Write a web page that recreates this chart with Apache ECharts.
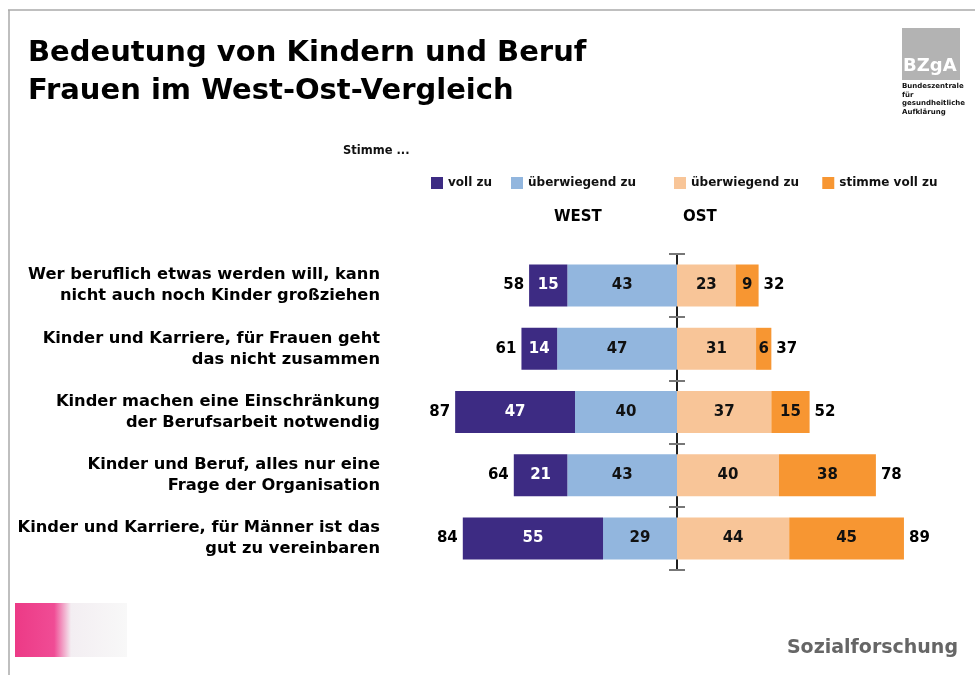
<!DOCTYPE html>
<html>
<head>
<meta charset="utf-8">
<script src="https://cdn.jsdelivr.net/npm/echarts@6/dist/echarts.min.js"></script>
<style>
  html, body { margin: 0; padding: 0; background: #fff; }
  #chart { width: 975px; height: 675px; }
</style>
</head>
<body>
<div id="chart"></div>
<script>
const categories = [
  'Wer beruflich etwas werden will, kann\nnicht auch noch Kinder großziehen',
  'Kinder und Karriere, für Frauen geht\ndas nicht zusammen',
  'Kinder machen eine Einschränkung\nder Berufsarbeit notwendig',
  'Kinder und Beruf, alles nur eine\nFrage der Organisation',
  'Kinder und Karriere, für Männer ist das\ngut zu vereinbaren'
]
// west (negative side), east (positive side)
const westVoll = [15, 14, 47, 21, 55]
const westUeber = [43, 47, 40, 43, 29]
const ostUeber = [23, 31, 37, 40, 44]
const ostVoll = [9, 6, 15, 38, 45]
const westTotal = [58, 61, 87, 64, 84]
const ostTotal = [32, 37, 52, 78, 89]

const font = '"DejaVu Sans", sans-serif'
const barWidth = 42

const chart = echarts.init(document.getElementById('chart'))

function barLabel(color) {
  return {
    show: true,
    position: 'inside',
    color: color,
    fontFamily: font,
    fontWeight: 'bold',
    fontSize: 15,
    formatter: p => Math.abs(p.value)
  }
}

function totalLabel(pos) {
  return {
    show: true, position: pos, distance: 5,
    color: '#000', fontFamily: font, fontWeight: 'bold', fontSize: 15,
    formatter: p => Math.abs(p.value[0])
  }
}

const catAxisBase = {
  type: 'category',
  data: categories,
  inverse: true,
  boundaryGap: true
}

const legendText = { fontFamily: font, fontWeight: 'bold', fontSize: 12, color: '#111' }

chart.setOption({
  animation: false,
  title: {
    text: 'Bedeutung von Kindern und Beruf\nFrauen im West-Ost-Vergleich',
    left: 23,
    top: 29,
    textStyle: { fontFamily: font, fontWeight: 'bold', fontSize: 29, lineHeight: 38, color: '#000' }
  },
  legend: [{
    data: ['voll zu', 'überwiegend zu'],
    left: 426, top: 172,
    icon: 'rect', itemWidth: 12, itemHeight: 12, itemGap: 19,
    textStyle: legendText
  }, {
    data: ['überwiegend zu ', 'stimme voll zu'],
    left: 669, top: 172,
    icon: 'rect', itemWidth: 12, itemHeight: 12, itemGap: 19,
    textStyle: legendText
  }],
  grid: { left: 422, right: 43, top: 254, bottom: 105 },
  xAxis: { type: 'value', min: -100, max: 100, show: false },
  yAxis: [Object.assign({}, catAxisBase, {
    position: 'left',
    axisLine: { show: false, onZero: false },
    axisTick: { show: false },
    axisLabel: {
      margin: 42, align: 'right',
      fontFamily: font, fontWeight: 'bold', fontSize: 16.3, lineHeight: 21, color: '#000'
    }
  }), Object.assign({}, catAxisBase, {
    axisLine: { show: true, onZero: true, onZeroAxisIndex: 0, lineStyle: { color: '#111', width: 1.5 } },
    axisTick: { show: true, length: 8, lineStyle: { color: '#777', width: 2 } },
    axisLabel: { show: false }
  }), Object.assign({}, catAxisBase, {
    axisLine: { show: true, onZero: true, onZeroAxisIndex: 0, lineStyle: { color: '#111', width: 1.5 } },
    axisTick: { show: true, inside: true, length: 8, lineStyle: { color: '#777', width: 2 } },
    axisLabel: { show: false }
  })],
  series: [{
    name: 'überwiegend zu', type: 'bar', stack: 'west', barWidth: barWidth, barGap: '-100%',
    data: westUeber.map(v => -v),
    itemStyle: { color: '#92b6de' },
    label: barLabel('#111')
  }, {
    name: 'voll zu', type: 'bar', stack: 'west', barWidth: barWidth, barGap: '-100%',
    data: westVoll.map(v => -v),
    itemStyle: { color: '#3d2b83' },
    label: barLabel('#fff')
  }, {
    name: 'überwiegend zu ', type: 'bar', stack: 'ost', barWidth: barWidth, barGap: '-100%',
    data: ostUeber,
    itemStyle: { color: '#f8c598' },
    label: barLabel('#111')
  }, {
    name: 'stimme voll zu', type: 'bar', stack: 'ost', barWidth: barWidth, barGap: '-100%',
    data: ostVoll,
    itemStyle: { color: '#f79632' },
    label: barLabel('#111')
  }, {
    type: 'scatter', symbolSize: 0, itemStyle: { color: '#000', opacity: 1 }, silent: true,
    data: westTotal.map((v, i) => [-v, i]),
    label: totalLabel('left')
  }, {
    type: 'scatter', symbolSize: 0, itemStyle: { color: '#000', opacity: 1 }, silent: true,
    data: ostTotal.map((v, i) => [v, i]),
    label: totalLabel('right')
  }],
  graphic: [
    // frame
    { type: 'line', shape: { x1: 8, y1: 10, x2: 975, y2: 10 }, style: { stroke: '#aaa', lineWidth: 1.5 } },
    { type: 'line', shape: { x1: 9, y1: 10, x2: 9, y2: 675 }, style: { stroke: '#aaa', lineWidth: 1.5 } },
    // BZgA logo
    { type: 'rect', shape: { x: 902, y: 28, width: 58, height: 52 }, style: { fill: '#b3b3b3' } },
    { type: 'text', left: 903, top: 57, style: { text: 'BZgA', fill: '#fff', font: 'bold 18px ' + font } },
    { type: 'text', left: 902, top: 82, style: { text: 'Bundeszentrale\nfür\ngesundheitliche\nAufklärung', fill: '#111', font: 'bold 7px ' + font, lineHeight: 8.5 } },
    // texts
    { type: 'text', left: 343, top: 145, style: { text: 'Stimme ...', fill: '#111', font: 'bold 11.5px ' + font } },
    { type: 'text', left: 554, top: 210, style: { text: 'WEST', fill: '#000', font: 'bold 15px ' + font } },
    { type: 'text', left: 683, top: 210, style: { text: 'OST', fill: '#000', font: 'bold 15px ' + font } },
    // bottom logos
    { type: 'rect', shape: { x: 15, y: 603, width: 112, height: 54 }, style: {
      fill: new echarts.graphic.LinearGradient(0, 0, 1, 0, [
        { offset: 0, color: '#ec3a86' }, { offset: 0.35, color: '#f04c95' },
        { offset: 0.5, color: '#f3eef2' }, { offset: 1, color: '#f8f8f8' }
      ])
    } },
    { type: 'text', right: 17, top: 639, style: { text: 'Sozialforschung', fill: '#666', font: 'bold 19px ' + font } }
  ]
})
</script>
</body>
</html>
